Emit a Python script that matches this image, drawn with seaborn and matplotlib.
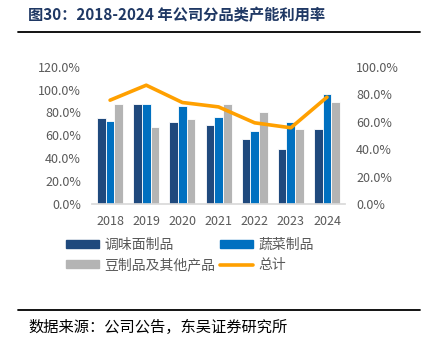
import matplotlib

matplotlib.use("Agg")

import matplotlib.pyplot as plt
import pandas as pd
import seaborn as sns
from matplotlib.lines import Line2D
from matplotlib.patches import Patch
from matplotlib.ticker import FuncFormatter


years = ["2018", "2019", "2020", "2021", "2022", "2023", "2024"]
noodle = [75.0, 87.2, 71.5, 68.6, 56.9, 48.0, 65.1]
vegetable = [72.7, 87.8, 85.5, 75.6, 64.2, 71.5, 95.9]
bean = [87.8, 67.7, 74.7, 87.2, 80.0, 65.4, 88.7]
total = [75.6, 86.5, 73.9, 70.7, 59.1, 55.5, 77.8]

series_names = ["调味面制品", "蔬菜制品", "豆制品及其他产品"]
total_name = "总计"
colors = ["#1F497D", "#0070C0", "#B4B4B4"]
line_color = "#FFA000"

FONT = ["Noto Sans CJK SC", "DejaVu Sans"]


def main() -> None:
    bars = pd.DataFrame(
        {
            "year": years * 3,
            "series": [n for n in series_names for _ in years],
            "value": noodle + vegetable + bean,
        }
    )
    line = pd.DataFrame({"year": years, "value": total})

    sns.set_theme(style="white")
    plt.rcParams["font.family"] = FONT

    fig = plt.figure(figsize=(4.26, 3.55), dpi=100)
    ax = fig.add_axes([0.216, 0.4254, 0.594, 0.3868])

    sns.barplot(
        data=bars,
        x="year",
        y="value",
        hue="series",
        hue_order=series_names,
        palette=colors,
        saturation=1,
        width=0.72,
        edgecolor="white",
        linewidth=0.6,
        ax=ax,
        legend=False,
    )
    ax.set_ylim(0, 120)
    ax.set_yticks(range(0, 121, 20))
    ax.yaxis.set_major_formatter(FuncFormatter(lambda v, _: f"{v:.1f}%"))

    ax2 = ax.twinx()
    sns.lineplot(
        data=line,
        x="year",
        y="value",
        color=line_color,
        linewidth=2.6,
        sort=False,
        ax=ax2,
    )
    ax2.set_ylim(0, 100)
    ax2.set_yticks(range(0, 101, 20))
    ax2.yaxis.set_major_formatter(FuncFormatter(lambda v, _: f"{v:.1f}%"))

    for a in (ax, ax2):
        a.set_xlabel("")
        a.set_ylabel("")
        for side in ("top", "left", "right"):
            a.spines[side].set_visible(False)
        a.spines["bottom"].set_color("#D9D9D9")
        a.tick_params(axis="both", length=0, labelsize=9, colors="#595959")
    ax.tick_params(axis="y", pad=8)
    ax.tick_params(axis="x", pad=8)
    ax2.tick_params(axis="y", pad=8)
    ax2.spines["bottom"].set_visible(False)
    ax.set_xlim(-0.5, len(years) - 0.5)

    handles = [
        Patch(color=colors[0]),
        Patch(color=colors[2]),
        Patch(color=colors[1]),
        Line2D([0], [0], color=line_color, linewidth=2.6),
    ]
    labels = [series_names[0], series_names[2], series_names[1], total_name]
    fig.legend(
        handles,
        labels,
        loc="upper left",
        bbox_to_anchor=(0.125, 0.365),
        ncol=2,
        frameon=False,
        fontsize=10,
        handlelength=2.4,
        handleheight=0.5,
        handletextpad=0.4,
        columnspacing=0.3,
        labelspacing=0.45,
        labelcolor="#595959",
    )

    fig.text(
        0.066,
        0.957,
        "图30：2018-2024 年公司分品类产能利用率",
        fontsize=11,
        fontweight="bold",
        color="#1F3864",
        va="center",
        ha="left",
    )
    fig.add_artist(Line2D([0.042, 0.986], [0.91, 0.91], color="black", linewidth=1.3))
    fig.add_artist(Line2D([0.042, 0.986], [0.127, 0.127], color="black", linewidth=1.3))
    fig.text(
        0.066,
        0.078,
        "数据来源：公司公告，东吴证券研究所",
        fontsize=11,
        color="black",
        va="center",
        ha="left",
    )

    fig.savefig("out.png", dpi=100)
    plt.close(fig)


if __name__ == "__main__":
    main()
